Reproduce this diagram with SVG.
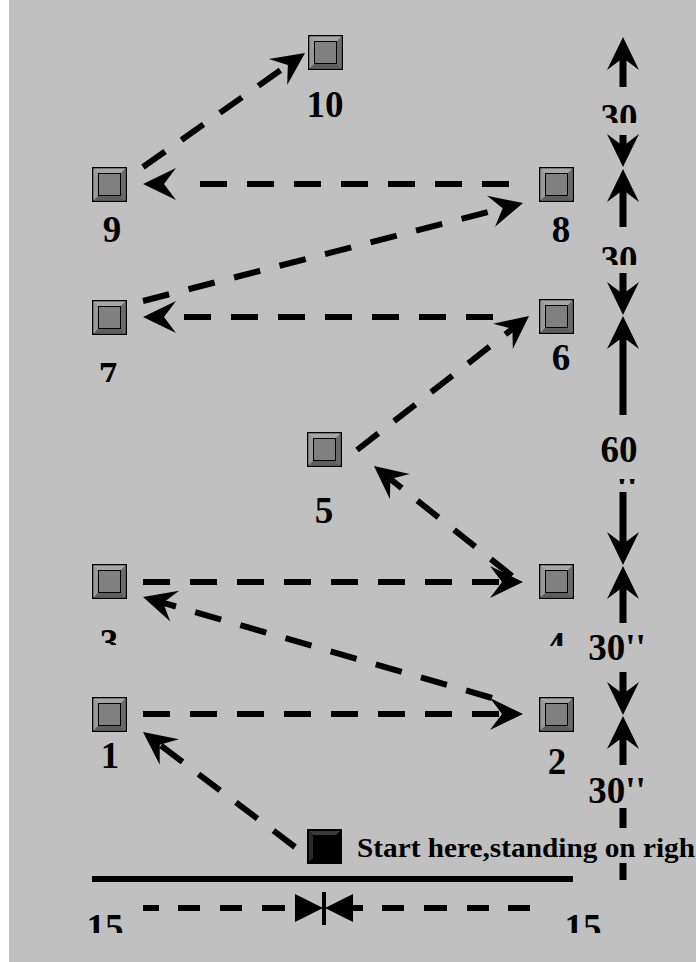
<svg xmlns="http://www.w3.org/2000/svg" xmlns:xlink="http://www.w3.org/1999/xlink" width="696" height="962" viewBox="0 0 696 962">
<style>
.lbl{font-family:"Liberation Serif","Times New Roman",serif;font-weight:bold;font-size:37px;fill:#000;text-anchor:middle}
.note{font-family:"Liberation Serif","Times New Roman",serif;font-weight:bold;font-size:28px;fill:#000}
.dash{fill:none;stroke:#000;stroke-width:6;stroke-dasharray:27 20}
.solid{fill:none;stroke:#000;stroke-width:7}
.bdash{fill:none;stroke:#000;stroke-width:6}
</style>
<defs>
<path id="ah" d="M0,0 L-33,-16 L-21,0 L-33,16 Z" fill="#000"/>
<g id="box">
<rect x="0.75" y="0.75" width="33.5" height="33.5" fill="#8c8c8c" stroke="#000" stroke-width="1.5"/>
<polygon points="1.5,1.5 33.5,1.5 28.5,6.5 6.5,6.5" fill="#a6a6a6"/>
<polygon points="1.5,1.5 6.5,6.5 6.5,28.5 1.5,33.5" fill="#9a9a9a"/>
<polygon points="33.5,1.5 33.5,33.5 28.5,28.5 28.5,6.5" fill="#6a6a6a"/>
<polygon points="1.5,33.5 33.5,33.5 28.5,28.5 6.5,28.5" fill="#5e5e5e"/>
<rect x="6.5" y="6.5" width="22" height="22" fill="#808080" stroke="#000" stroke-width="1"/>
</g>
<clipPath id="c7"><rect x="80" y="350" width="60" height="32"/></clipPath>
<clipPath id="c3"><rect x="80" y="615" width="60" height="30"/></clipPath>
<clipPath id="c4"><rect x="530" y="615" width="50" height="31"/></clipPath>
<clipPath id="c30a"><rect x="590" y="95" width="60" height="28"/></clipPath>
<clipPath id="c30b"><rect x="590" y="237" width="60" height="28"/></clipPath>
<clipPath id="cq"><rect x="600" y="476" width="50" height="8"/></clipPath>
<clipPath id="c15"><rect x="60" y="905" width="600" height="28"/></clipPath>
</defs>
<rect x="0" y="0" width="696" height="962" fill="#c0c0c0"/>
<rect x="0" y="0" width="9" height="962" fill="#fff"/>

<g id="connectors">
<path class="dash" d="M295,847 L159.7,744.7"/>
<use xlink:href="#ah" transform="translate(143,732) rotate(-142.9)"/>
<path class="dash" d="M143,714 H502"/>
<use xlink:href="#ah" transform="translate(523,714)"/>
<path class="dash" d="M492,698 L163.2,602.8"/>
<use xlink:href="#ah" transform="translate(143,597) rotate(-163.86)"/>
<path class="dash" d="M143,582 H502"/>
<use xlink:href="#ah" transform="translate(523,582)"/>
<path class="dash" d="M512,576 L390.4,479.1"/>
<use xlink:href="#ah" transform="translate(374,466) rotate(-141.44)"/>
<path class="dash" d="M357,450 L512.4,328.9"/>
<use xlink:href="#ah" transform="translate(529,316) rotate(-37.92)"/>
<path class="dash" d="M493,317 H184"/>
<use xlink:href="#ah" transform="translate(143,317) rotate(180)"/>
<path class="dash" d="M143,301 L502.7,208.2"/>
<use xlink:href="#ah" transform="translate(523,203) rotate(-14.46)"/>
<path class="dash" d="M509,184 H200"/>
<use xlink:href="#ah" transform="translate(143,184) rotate(180)"/>
<path class="dash" d="M143,167 L287.8,65.1"/>
<use xlink:href="#ah" transform="translate(305,53) rotate(-35.13)"/>
</g>

<g id="dimension-vertical">
<use xlink:href="#ah" transform="translate(623,37) rotate(-90)"/>
<path class="solid" d="M623,56 V87"/>
<path class="solid" d="M623,135 V150"/>
<use xlink:href="#ah" transform="translate(623,167) rotate(90)"/>
<use xlink:href="#ah" transform="translate(623,169) rotate(-90)"/>
<path class="solid" d="M623,188 V227"/>
<path class="solid" d="M623,273 V296"/>
<use xlink:href="#ah" transform="translate(623,315) rotate(90)"/>
<use xlink:href="#ah" transform="translate(623,316) rotate(-90)"/>
<path class="solid" d="M623,335 V415"/>
<path class="solid" d="M623,492 V546"/>
<use xlink:href="#ah" transform="translate(623,565) rotate(90)"/>
<use xlink:href="#ah" transform="translate(623,566) rotate(-90)"/>
<path class="solid" d="M623,585 V623"/>
<path class="solid" d="M623,672 V696"/>
<use xlink:href="#ah" transform="translate(623,715) rotate(90)"/>
<use xlink:href="#ah" transform="translate(623,716) rotate(-90)"/>
<path class="solid" d="M623,735 V765"/>
<path class="solid" d="M623,808 V828 M623,863 V880"/>
<text class="lbl" x="619" y="130" clip-path="url(#c30a)">30</text>
<text class="lbl" x="619" y="272" clip-path="url(#c30b)">30</text>
<text class="lbl" x="619" y="462">60</text>
<text class="lbl" x="627" y="504" clip-path="url(#cq)">''</text>
<text class="lbl" x="617" y="660">30''</text>
<text class="lbl" x="617" y="803">30''</text>
</g>

<g id="dimension-horizontal">
<path class="bdash" d="M92,879 H573"/>
<path class="bdash" d="M143,908 H159 M178,908 H200 M220,908 H242 M262,908 H285"/>
<polygon points="295,894 323,908 295,922" fill="#000"/>
<polygon points="353,894 325,908 353,922" fill="#000"/>
<path d="M324,892 V925" stroke="#000" stroke-width="4"/>
<path class="bdash" d="M353,908 H363 M382,908 H404 M424,908 H447 M467,908 H489 M508,908 H530"/>
<text class="lbl" x="105" y="940" clip-path="url(#c15)">15</text>
<text class="lbl" x="583" y="940" clip-path="url(#c15)">15</text>
</g>

<g id="node-10"><use xlink:href="#box" x="308" y="35"/><text class="lbl" x="325" y="117">10</text></g>
<g id="node-9"><use xlink:href="#box" x="92" y="167"/><text class="lbl" x="112" y="242">9</text></g>
<g id="node-8"><use xlink:href="#box" x="539" y="167"/><text class="lbl" x="561" y="242">8</text></g>
<g id="node-7"><use xlink:href="#box" x="92" y="300"/><text class="lbl" x="108" y="388" clip-path="url(#c7)">7</text></g>
<g id="node-6"><use xlink:href="#box" x="539" y="299"/><text class="lbl" x="561" y="370">6</text></g>
<g id="node-5"><use xlink:href="#box" x="307" y="432"/><text class="lbl" x="324" y="523">5</text></g>
<g id="node-3"><use xlink:href="#box" x="92" y="564"/><text class="lbl" x="109" y="655" clip-path="url(#c3)">3</text></g>
<g id="node-4"><use xlink:href="#box" x="539" y="564"/><text class="lbl" x="556" y="658" clip-path="url(#c4)">4</text></g>
<g id="node-1"><use xlink:href="#box" x="92" y="697"/><text class="lbl" x="110" y="768">1</text></g>
<g id="node-2"><use xlink:href="#box" x="539" y="697"/><text class="lbl" x="557" y="774">2</text></g>
<g id="node-start">
<rect x="307.75" y="829.75" width="33.5" height="33.5" fill="#000" stroke="#000" stroke-width="1.5"/>
<polygon points="309,831 340,831 336,835 313,835" fill="#3a3a3a"/>
<polygon points="309,831 313,835 313,858 309,862" fill="#2a2a2a"/>
<text class="note" x="357" y="857" textLength="338" lengthAdjust="spacingAndGlyphs">Start here,standing on righ</text>
</g>
</svg>
